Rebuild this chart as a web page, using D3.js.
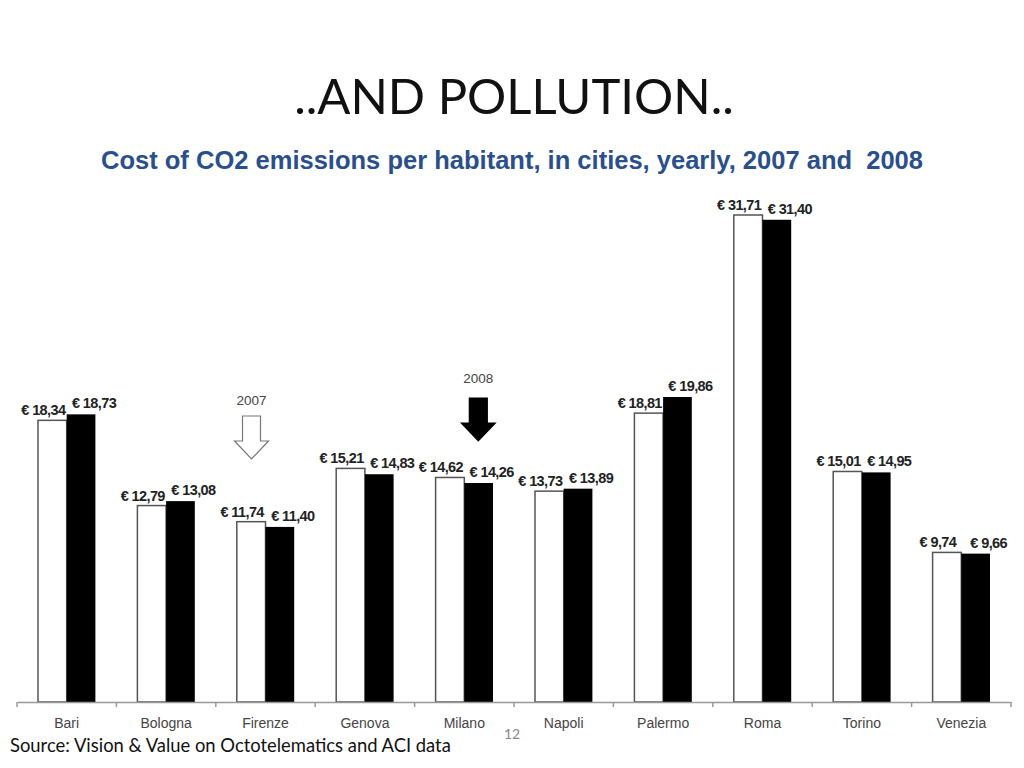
<!DOCTYPE html>
<html><head><meta charset="utf-8">
<script src="https://cdn.jsdelivr.net/npm/d3@7"></script>
<style>body{margin:0;background:#fff}</style>
</head><body>
<svg id="c" width="1024" height="768"></svg>
<script>
const cities = ["Bari","Bologna","Firenze","Genova","Milano","Napoli","Palermo","Roma","Torino","Venezia"];
const values2007 = [18.34,12.79,11.74,15.21,14.62,13.73,18.81,31.71,15.01,9.74];
const values2008 = [18.73,13.08,11.40,14.83,14.26,13.89,19.86,31.40,14.95,9.66];
const years = ["2007","2008"];

const svg = d3.select("#c");
const fmt = v => "€ " + v.toFixed(2).replace(".", ",");

svg.append("text").attr("x",514).attr("y",114).attr("text-anchor","middle")
  .attr("font-family","Lato, 'Open Sans', sans-serif").attr("font-size",49).attr("fill","#111")
  .text("..AND POLLUTION..");
svg.append("text").attr("x",512).attr("y",169).attr("text-anchor","middle")
  .attr("font-family","'Liberation Sans', Arial, sans-serif").attr("font-weight","bold")
  .attr("font-size",25).attr("fill","#2a4f8c").attr("textLength",822).attr("lengthAdjust","spacingAndGlyphs")
  .text("Cost of CO2 emissions per habitant, in cities, yearly, 2007 and\u00a0 2008");

const x = d3.scaleBand().domain(cities).range([17,1011]).paddingInner(0).paddingOuter(0);
const xs = d3.scaleBand().domain(years).range([21, x.bandwidth()-21]);
const y = d3.scaleLinear().domain([0,31.71]).range([702,215]);

const g = svg.append("g");
const grp = g.selectAll("g.city").data(cities).join("g").attr("transform", d=>`translate(${x(d)},0)`);
grp.append("rect").attr("x",xs("2007")).attr("width",xs.bandwidth())
  .attr("y",(d,i)=>y(values2007[i])).attr("height",(d,i)=>y(0)-y(values2007[i]))
  .attr("fill","#fff").attr("stroke","#555").attr("stroke-width",1.5);
grp.append("rect").attr("x",xs("2008")).attr("width",xs.bandwidth())
  .attr("y",(d,i)=>y(values2008[i])).attr("height",(d,i)=>y(0)-y(values2008[i]))
  .attr("fill","#000");

const lab = {"font-family":"'Liberation Sans', Arial, sans-serif","font-weight":"bold","font-size":14.5,"fill":"#222","letter-spacing":"-0.6"};
grp.append("text").attr("x",xs("2007")+xs.bandwidth()/2-9).attr("y",(d,i)=>y(values2007[i])-5)
  .attr("text-anchor","middle").each(function(){for(const k in lab) d3.select(this).attr(k,lab[k]);})
  .text((d,i)=>fmt(values2007[i]));
grp.append("text").attr("x",xs("2008")+xs.bandwidth()/2+13).attr("y",(d,i)=>y(values2008[i])-6)
  .attr("text-anchor","middle").each(function(){for(const k in lab) d3.select(this).attr(k,lab[k]);})
  .text((d,i)=>fmt(values2008[i]));

// axis
const axis = svg.append("g").attr("transform","translate(0,702)")
  .call(d3.axisBottom(x).tickSize(0).tickPadding(16));
axis.select(".domain").attr("stroke","#999").attr("stroke-width",1.5);
axis.selectAll("text").attr("font-family","'Liberation Sans', Arial, sans-serif").attr("font-size",14).attr("fill","#444");
const bounds = cities.map(c=>x(c)).concat([x(cities[cities.length-1])+x.bandwidth()]);
axis.selectAll("line.sep").data(bounds).join("line").attr("class","sep")
  .attr("x1",d=>d).attr("x2",d=>d).attr("y1",0).attr("y2",5).attr("stroke","#999").attr("stroke-width",1.5);

// arrows
function arrow(cx, top, fill, stroke){
  const p = d3.path();
  p.moveTo(cx-9, top); p.lineTo(cx+9, top); p.lineTo(cx+9, top+25); p.lineTo(cx+17, top+25);
  p.lineTo(cx, top+43); p.lineTo(cx-17, top+25); p.lineTo(cx-9, top+25); p.closePath();
  svg.append("path").attr("d", p.toString()).attr("fill",fill).attr("stroke",stroke).attr("stroke-width",1.2);
}
const a07 = x("Firenze")+x.bandwidth()/2-14, a08 = x("Milano")+x.bandwidth()/2+14;
arrow(a07, 416, "#fff", "#777");
arrow(a08, 398, "#000", "#000");
svg.append("text").attr("x",a07).attr("y",405).attr("text-anchor","middle")
  .attr("font-family","'Liberation Sans', Arial, sans-serif").attr("font-size",13.5).attr("fill","#444").text("2007");
svg.append("text").attr("x",a08).attr("y",383).attr("text-anchor","middle")
  .attr("font-family","'Liberation Sans', Arial, sans-serif").attr("font-size",13.5).attr("fill","#444").text("2008");

svg.append("text").attr("x",10).attr("y",752).attr("font-family","Lato, 'Open Sans', sans-serif")
  .attr("font-size",18.4).attr("fill","#111").text("Source: Vision & Value on Octotelematics and ACI data");
svg.append("text").attr("x",512).attr("y",739).attr("text-anchor","middle").attr("font-family","Lato, sans-serif")
  .attr("font-size",14).attr("fill","#888").text("12");
</script>
</body></html>
